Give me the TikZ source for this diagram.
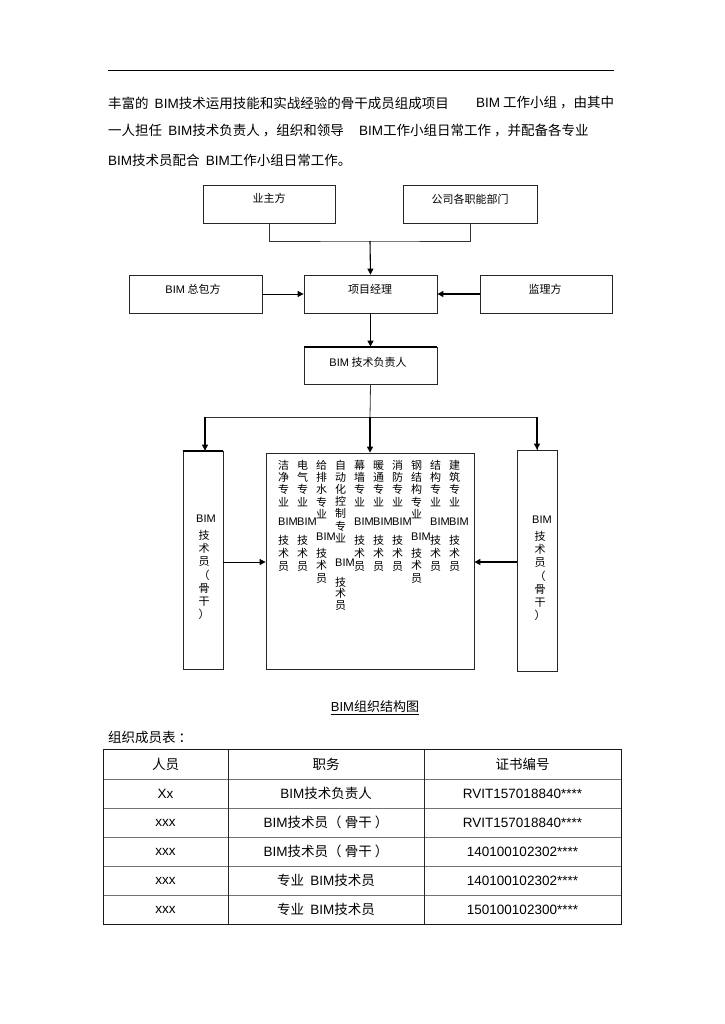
\documentclass[tikz,border=0pt]{standalone}
\usepackage{fontspec}
\setmainfont{Noto Sans CJK SC}
\newfontfamily\latfont{Liberation Sans}
\newcommand\lat[1]{{\latfont #1}}
\usetikzlibrary{arrows.meta}
\tikzset{
  box/.style={draw=black!85, line width=0.8pt, inner sep=0pt},
  lbl/.style={inner sep=0pt, font=\fontsize{11}{13}\selectfont},
  vch/.style={inner sep=0pt, font=\fontsize{11}{13}\selectfont},
  conn/.style={draw=black!80, line width=0.8pt},
  arr/.style={draw=black, line width=1.1pt, -{Triangle[length=6pt,width=6pt]}},
  para/.style={inner sep=0pt, anchor=west, font=\fontsize{13.5}{16}\selectfont},
  cell/.style={inner sep=0pt, font=\fontsize{13.5}{15}\selectfont},
  thicktop/.style={line width=1.8pt, draw=black},
}
\newcommand\vcol[5]{\foreach \vc [count=\i] in {#5} {\node[vch] (#1-\i) at ({#2},{#3+#4*(\i-1)}) {\vc};}}
\begin{document}
\begin{tikzpicture}[x=1pt,y=-1pt]
\useasboundingbox (0,0) rectangle (724,1024);
\fill[white] (0,0) rectangle (724,1024);

% top rule
\draw[line width=0.8pt] (108,70) -- (614,70);

% paragraph
\node[para] (p1a) at (108,103) {丰富的\ \ \lat{BIM}技术运用技能和实战经验的骨干成员组成项目};
\node[para] (p1b) at (476,103) {\lat{BIM} 工作小组 ，由其中};
\node[para] (p2a) at (108,131) {一人担任\ \ \lat{BIM}技术负责人 ，组织和领导};
\node[para] (p2b) at (359,131) {\lat{BIM}工作小组日常工作 ，并配备各专业};
\node[para] (p3) at (108,160) {\lat{BIM}技术员配合\ \ \lat{BIM}工作小组日常工作。};

% boxes
\node[box, minimum width=132, minimum height=38] (yz) at (269,204) {};
\node[lbl] (yzt) at (269,198) {业主方};
\node[box, minimum width=134, minimum height=38] (gs) at (470,204) {};
\node[lbl] (gst) at (470,199) {公司各职能部门};
\node[box, minimum width=133, minimum height=38] (xm) at (370.5,294) {};
\node[lbl] (xmt) at (370,289) {项目经理};
\node[box, minimum width=133, minimum height=38] (zb) at (195.5,294) {};
\node[lbl] (zbt) at (193,289) {\lat{BIM} 总包方};
\node[box, minimum width=132, minimum height=38] (jl) at (546,294) {};
\node[lbl] (jlt) at (545,289) {监理方};
\node[box, minimum width=133, minimum height=37] (fz) at (370.5,365.5) {};
\node[lbl] (fzt) at (368,362) {\lat{BIM} 技术负责人};
\draw[thicktop] (fz.north west) -- (fz.north east);

\node[box, minimum width=40, minimum height=218] (L) at (203,560) {};
\draw[thicktop] (L.north west) -- (L.north east);
\node[box, minimum width=208, minimum height=216] (C) at (370,561) {};
\node[box, minimum width=40, minimum height=221] (R) at (537,560.5) {};

% connectors
\coordinate (j1) at (370,241);
\draw[conn] (yz.south) |- (j1) -| (gs.south);
\draw[arr] (j1) -- (xm.north);
\draw[arr, line width=0.8pt] (zb.east) -- (xm.west);
\draw[arr] (jl.west) -- (xm.east);
\draw[arr] (xm.south) -- (fz.north);
\coordinate (j2) at (370,417);
\draw[conn] (fz.south) -- (j2);
\draw[conn] (j2) -| ([xshift=2pt]L.north);
\draw[conn] (j2) -| (R.north);
\draw[arr] ([xshift=2pt]L.north |- 418,417) -- ([xshift=2pt]L.north);
\draw[arr] (R.north |- 418,417) -- (R.north);
\draw[arr] (j2) -- (C.north);
\draw[arr, line width=0.8pt] (L.east |- 0,562) -- (C.west |- 0,562);
\draw[arr] (R.west |- 0,562) -- (C.east |- 0,562);

% side box texts
\node[vch] (Lb) at (206,519) {\lat{BIM}};
\vcol{Lt}{204}{535}{13.3}{技,术,员,（,骨,干,）}
\node[vch] (Rb) at (542,520) {\lat{BIM}};
\vcol{Rt}{540}{536}{13.3}{技,术,员,（,骨,干,）}

% centre columns
\vcol{s1}{283.5}{465}{12.3}{洁,净,专,业}
\vcol{s2}{302.5}{465}{12.3}{电,气,专,业}
\vcol{s3}{321.5}{465}{12.3}{给,排,水,专,业}
\vcol{s4}{340.5}{465}{12.2}{自,动,化,控,制,专,业}
\vcol{s5}{359.5}{465}{12.3}{幕,墙,专,业}
\vcol{s6}{378.5}{465}{12.3}{暖,通,专,业}
\vcol{s7}{397.5}{465}{12.3}{消,防,专,业}
\vcol{s8}{416.5}{465}{12.3}{钢,结,构,专,业}
\vcol{s9}{435.5}{465}{12.3}{结,构,专,业}
\vcol{s10}{454.5}{465}{12.3}{建,筑,专,业}

\node[vch, anchor=west] (b1) at (278,522) {\lat{BIM}};
\node[vch, anchor=west] (b2) at (297,522) {\lat{BIM}};
\node[vch, anchor=west] (b3) at (316,537) {\lat{BIM}};
\node[vch, anchor=west] (b4) at (335,563) {\lat{BIM}};
\node[vch, anchor=west] (b5) at (354,522) {\lat{BIM}};
\node[vch, anchor=west] (b6) at (373,522) {\lat{BIM}};
\node[vch, anchor=west] (b7) at (392,522) {\lat{BIM}};
\node[vch, anchor=west] (b8) at (411,537) {\lat{BIM}};
\node[vch, anchor=west] (b9) at (430,522) {\lat{BIM}};
\node[vch, anchor=west] (b10) at (449,522) {\lat{BIM}};

\vcol{t1}{283.5}{540}{13.3}{技,术,员}
\vcol{t2}{302.5}{540}{13.3}{技,术,员}
\vcol{t3}{321.5}{553}{12.6}{技,术,员}
\vcol{t4}{340.5}{582}{11.8}{技,术,员}
\vcol{t5}{359.5}{540}{13.3}{技,术,员}
\vcol{t6}{378.5}{540}{13.3}{技,术,员}
\vcol{t7}{397.5}{540}{13.3}{技,术,员}
\vcol{t8}{416.5}{553}{12.6}{技,术,员}
\vcol{t9}{435.5}{540}{13.3}{技,术,员}
\vcol{t10}{454.5}{540}{13.3}{技,术,员}

% caption
\node[inner sep=0pt, font=\fontsize{13}{15}\selectfont] (cap) at (375,707) {\lat{BIM}组织结构图};
\draw[line width=0.7pt] ([yshift=-1.5pt]cap.south west) -- ([yshift=-1.5pt]cap.south east);
\node[para] (tt) at (108,737) {组织成员表 ：};

% table
\draw[black!55, line width=0.8pt] \foreach \yy in {779,808,837,866,895} {(103,\yy) -- (621,\yy)};
\draw[black!85, line width=0.8pt] (228,749) -- (228,924) (424,749) -- (424,924);
\draw[black!90, line width=0.9pt] (103,749) rectangle (621,924);

\node[cell] (h1) at (165.5,764) {人员};
\node[cell] (h2) at (326,764) {职务};
\node[cell] (h3) at (522.5,764) {证书编号};

\node[cell] (a1) at (165.5,793.5) {\lat{Xx}};
\node[cell] (a2) at (326,793.5) {\lat{BIM}技术负责人};
\node[cell] (a3) at (522.5,793.5) {\lat{RVIT157018840****}};

\node[cell] (b1r) at (165.5,822.5) {\lat{xxx}};
\node[cell] (b2r) at (326,822.5) {\lat{BIM}技术员（ 骨干 ）};
\node[cell] (b3r) at (522.5,822.5) {\lat{RVIT157018840****}};

\node[cell] (c1) at (165.5,851.5) {\lat{xxx}};
\node[cell] (c2) at (326,851.5) {\lat{BIM}技术员（ 骨干 ）};
\node[cell] (c3) at (522.5,851.5) {\lat{140100102302****}};

\node[cell] (d1) at (165.5,880.5) {\lat{xxx}};
\node[cell] (d2) at (326,880.5) {专业\ \ \lat{BIM}技术员};
\node[cell] (d3) at (522.5,880.5) {\lat{140100102302****}};

\node[cell] (e1) at (165.5,909.5) {\lat{xxx}};
\node[cell] (e2) at (326,909.5) {专业\ \ \lat{BIM}技术员};
\node[cell] (e3) at (522.5,909.5) {\lat{150100102300****}};
\end{tikzpicture}
\end{document}
